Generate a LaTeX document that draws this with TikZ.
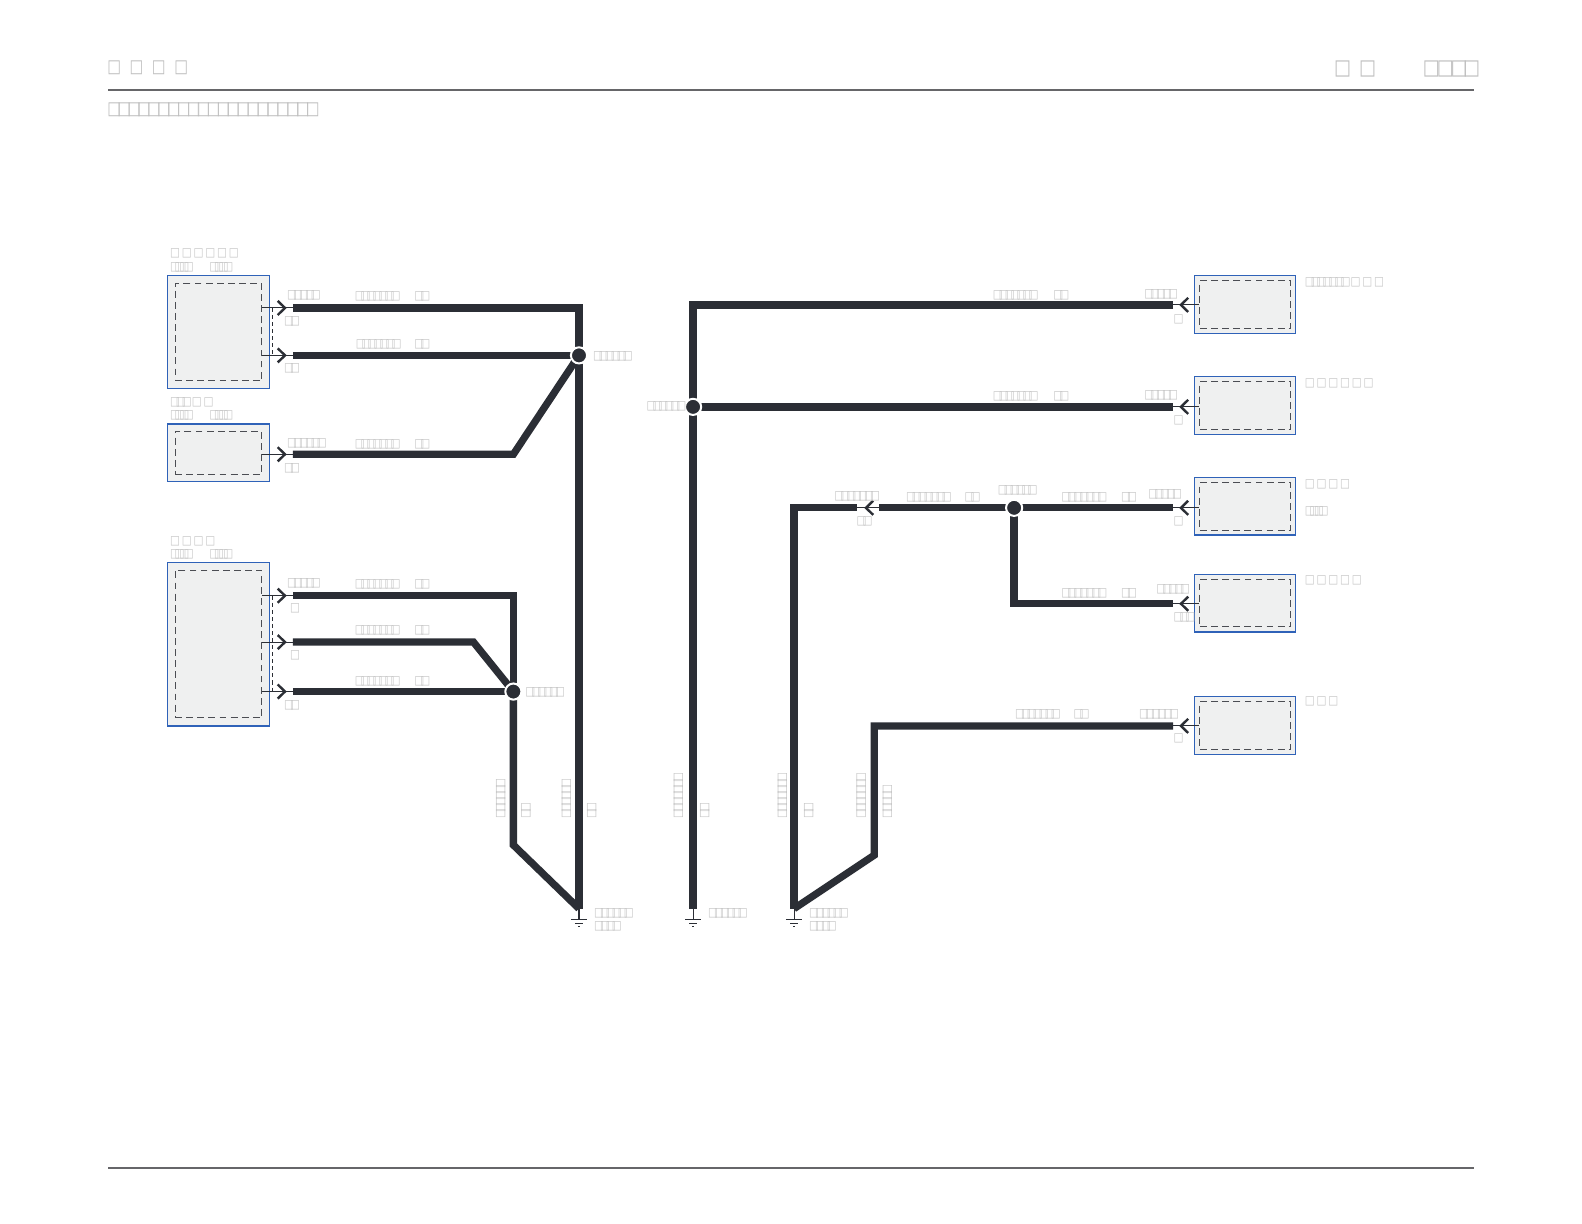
\documentclass[tikz,border=0pt]{standalone}
\usepackage{fontspec}
\usetikzlibrary{arrows.meta}
\newfontfamily\tofuhead[FakeStretch=0.8,LetterSpace=47]{DejaVu Sans}
\newfontfamily\tofusub[FakeStretch=0.8,LetterSpace=-21]{DejaVu Sans}
\newfontfamily\tofubig[FakeStretch=0.85,LetterSpace=38]{DejaVu Sans}
\newfontfamily\tofubigt[FakeStretch=0.85,LetterSpace=-15]{DejaVu Sans}
\newfontfamily\tofutight[FakeStretch=0.87,LetterSpace=-33]{DejaVu Sans}
\newfontfamily\tofudense[FakeStretch=0.87,LetterSpace=-44]{DejaVu Sans}
\newfontfamily\tofuwide[FakeStretch=0.87,LetterSpace=15]{DejaVu Sans}
\definecolor{wirecol}{HTML}{2B2E35}
\definecolor{boxblue}{HTML}{2F62B8}
\definecolor{boxfill}{HTML}{EFF0F0}
\definecolor{rulecol}{HTML}{666669}
\definecolor{textcol}{HTML}{C6C6C6}
\definecolor{headcol}{HTML}{BEBEBE}
\tikzstyle{outerbox} = [rectangle, draw=boxblue, fill=boxfill, line width=0.6pt, inner sep=0pt]
\tikzstyle{innerbox} = [rectangle, draw=wirecol!85, dashed, dash pattern=on 3.4pt off 2.1pt, line width=0.5pt, inner sep=0pt]
\tikzstyle{wire} = [draw=wirecol, line width=3.6pt, miter limit=10]
\tikzstyle{pin} = [draw=wirecol, line width=0.5pt]
\tikzstyle{pinarrow} = [draw=wirecol, line width=0.5pt, -{Straight Barb[length=3.6pt,width=7pt,line width=1.2pt]}]
\tikzstyle{link} = [draw=wirecol, line width=0.4pt, dashed, dash pattern=on 2pt off 1.5pt]
\tikzstyle{joint} = [circle, fill=wirecol, draw=white, line width=1pt, minimum size=8pt, inner sep=0pt]
\tikzstyle{rulel} = [draw=rulecol, line width=0.65pt]
\tikzstyle{lab} = [anchor=west, inner sep=0pt, yshift=-0.4pt, text=textcol, font=\fontsize{6}{7}\tofutight]
\tikzstyle{labw} = [lab, font=\fontsize{6}{7}\tofuwide]
\tikzstyle{labd} = [lab, font=\fontsize{6}{7}\tofudense]
\tikzstyle{labv} = [lab, rotate=90]
\tikzstyle{head} = [anchor=west, inner sep=0pt, text=headcol, font=\fontsize{9}{10}\tofuhead]
\tikzset{gnd/.pic={
	\draw [pin] (0,0) -- (0,11);
	\draw [pin] (-8,11) -- (8,11);
	\draw [pin] (-4,15) -- (4,15);
	\draw [pin] (-1,18) -- (1,18);
}}

\begin{document}
\begin{tikzpicture}[x=0.5pt, y=-0.5pt]
	\useasboundingbox (0,0) rectangle (1567,1212);
	% page frame
	\coordinate (topa) at (107,89);
	\coordinate (topb) at (1460,89);
	\coordinate (bota) at (107,1157);
	\coordinate (botb) at (1460,1157);
	\draw [rulel] (topa) -- (topb);
	\draw [rulel] (bota) -- (botb);
	\node (tl) [head] at (106,67.5) {□□□□};
	\node (tr1) [head, font=\fontsize{10.5}{11}\tofubig] at (1321,68) {□□};
	\node (tr2) [head, font=\fontsize{10.5}{11}\tofubigt] at (1409,68) {□□□\kern-2.2pt□};
	\node (stitle) [head, font=\fontsize{9}{10}\tofusub] at (106,109) {□□□□□□□□□□□□□□□□□□□□□};

	% left boxes
	\node (srca) [outerbox, minimum width=50.5pt, minimum height=56pt] at (216.5,329) {};
	\node (srcb) [outerbox, minimum width=50.5pt, minimum height=28.5pt] at (216.5,448.5) {};
	\node (srcc) [outerbox, minimum width=50.5pt, minimum height=81pt] at (216.5,638) {};
	\node (srcain) [innerbox, minimum width=43pt, minimum height=48pt] at (srca) {};
	\node (srcbin) [innerbox, minimum width=43pt, minimum height=21pt] at (srcb) {};
	\node (srccin) [innerbox, minimum width=43pt, minimum height=73pt] at (srcc) {};

	% right boxes
	\node (dsta) [outerbox, minimum width=50pt, minimum height=28.5pt] at (1233.5,301.5) {};
	\node (dstb) [outerbox, minimum width=50pt, minimum height=28.5pt] at (1233.5,401.5) {};
	\node (dstc) [outerbox, minimum width=50pt, minimum height=28.5pt] at (1233.5,501.5) {};
	\node (dstd) [outerbox, minimum width=50pt, minimum height=28.5pt] at (1233.5,597.5) {};
	\node (dste) [outerbox, minimum width=50pt, minimum height=28.5pt] at (1233.5,718.5) {};
	\node (dstain) [innerbox, minimum width=45pt, minimum height=23.5pt] at (dsta) {};
	\node (dstbin) [innerbox, minimum width=45pt, minimum height=23.5pt] at (dstb) {};
	\node (dstcin) [innerbox, minimum width=45pt, minimum height=23.5pt] at (dstc) {};
	\node (dstdin) [innerbox, minimum width=45pt, minimum height=23.5pt] at (dstd) {};
	\node (dstein) [innerbox, minimum width=45pt, minimum height=23.5pt] at (dste) {};

	% wire ends
	\coordinate (wa) at (290,305);
	\coordinate (wb) at (290,352);
	\coordinate (wc) at (290,450);
	\coordinate (wd) at (290,590);
	\coordinate (we) at (290,636);
	\coordinate (wf) at (290,685);
	\coordinate (ra) at (1162,302);
	\coordinate (rb) at (1162,403);
	\coordinate (rc) at (1162,503);
	\coordinate (rd) at (1162,598);
	\coordinate (re) at (1162,719);
	\coordinate (mida) at (871,503);
	\coordinate (midb) at (849,503);
	\coordinate (gnda) at (573.5,900);
	\coordinate (gndb) at (686.5,900);
	\coordinate (gndc) at (786.5,900);

	% joints
	\node (ja) [joint] at (573.5,352) {};
	\node (jb) [joint] at (508.5,685) {};
	\node (jc) [joint] at (686.5,403) {};
	\node (jd) [joint] at (1004.5,503) {};

	% wires
	\draw [wire] (wa) -- (573.5,305) -- (ja.center);
	\draw [wire] (wb) -- (ja.center);
	\draw [wire] (wc) -- (508.5,450) -- (ja.center);
	\draw [wire] (ja.center) -- (gnda);
	\draw [wire] (wd) -| (jb.center);
	\draw [wire] (we) -- (469,636) -- (jb.center);
	\draw [wire] (wf) -- (jb.center);
	\draw [wire] (jb.center) -- (508.5,837) -- (gnda);
	\draw [wire] (ra) -- (686.5,302) -- (jc.center);
	\draw [wire] (rb) -- (jc.center);
	\draw [wire] (jc.center) -- (gndb);
	\draw [wire] (rc) -- (jd.center);
	\draw [wire] (jd.center) -- (mida);
	\draw [wire] (midb) -- (786.5,503) -- (gndc);
	\draw [wire] (jd.center) |- (rd);
	\draw [wire] (re) -- (866,719) -- (866,847) -- (gndc);
	\node at (ja) [joint] {};
	\node at (jb) [joint] {};
	\node at (jc) [joint] {};
	\node at (jd) [joint] {};

	% pins
	\draw [pinarrow] (srcain.east |- wa) -- ([xshift=-3pt]wa);
	\draw [pinarrow] (srcain.east |- wb) -- ([xshift=-3pt]wb);
	\draw [pinarrow] (srcbin.east |- wc) -- ([xshift=-3pt]wc);
	\draw [pinarrow] (srccin.east |- wd) -- ([xshift=-3pt]wd);
	\draw [pinarrow] (srccin.east |- we) -- ([xshift=-3pt]we);
	\draw [pinarrow] (srccin.east |- wf) -- ([xshift=-3pt]wf);
	\foreach \w in {wa,wb,wc,wd,we,wf}
		\draw [pin] ([xshift=-3.5pt]\w) -- (\w);
	\draw [link] (270,305) -- (270,352);
	\draw [link] (270,590) -- (270,685);
	\draw [pinarrow] (dstain.west |- ra) -- ([xshift=3pt]ra);
	\draw [pinarrow] (dstbin.west |- rb) -- ([xshift=3pt]rb);
	\draw [pinarrow] (dstcin.west |- rc) -- ([xshift=3pt]rc);
	\draw [pinarrow] (dstdin.west |- rd) -- ([xshift=3pt]rd);
	\draw [pinarrow] (dstein.west |- re) -- ([xshift=3pt]re);
	\foreach \w in {ra,rb,rc,rd,re}
		\draw [pin] (\w) -- ([xshift=3.5pt]\w);
	\draw [pinarrow] (mida) -- ([xshift=3.5pt]midb);
	\draw [pin] (midb) -- ([xshift=4pt]midb);

	% grounds
	\pic at (gnda) {gnd};
	\pic at (gndb) {gnd};
	\pic at (gndc) {gnd};

	% left labels
	\node (tsa) [labw] at (168,250) {□□□□□□};
	\node (tsaa) [labd] at (168,264) {□□□□};
	\node (tsab) [labd] at (207,264) {□□□□};
	\node (tsb) [lab] at (168,398) {□□□{\tofuwide □□}};
	\node (tsba) [labd] at (168,411) {□□□□};
	\node (tsbb) [labd] at (207,411) {□□□□};
	\node (tsc) [labw] at (168,535) {□□□□};
	\node (tsca) [labd] at (168,548) {□□□□};
	\node (tscb) [labd] at (207,548) {□□□□};
	\node (pa) [lab] at (284,292) {□□□□□};
	\node (wla) [lab] at (351,293) {□□□□□□□};
	\node (wlb) [lab] at (410,293) {□□};
	\node (pb) [lab] at (281,317) {□□};
	\node (wlc) [lab] at (352,340) {□□□□□□□};
	\node (wld) [lab] at (410,340) {□□};
	\node (pc) [lab] at (281,364) {□□};
	\node (pd) [lab] at (284,438) {□□□□□□};
	\node (wle) [lab] at (351,439) {□□□□□□□};
	\node (wlf) [lab] at (410,439) {□□};
	\node (pe) [lab] at (281,463) {□□};
	\node (pf) [lab] at (284,577) {□□□□□};
	\node (wlg) [lab] at (351,578) {□□□□□□□};
	\node (wlh) [lab] at (410,578) {□□};
	\node (pg) [lab] at (287,602) {□};
	\node (wli) [lab] at (351,624) {□□□□□□□};
	\node (wlj) [lab] at (410,624) {□□};
	\node (ph) [lab] at (287,648) {□};
	\node (wlk) [lab] at (351,674) {□□□□□□□};
	\node (wll) [lab] at (410,674) {□□};
	\node (pi) [lab] at (281,698) {□□};

	% joint and ground labels
	\node (jla) [lab] at (587,352) {□□□□□□};
	\node (jlb) [lab] at (520,685) {□□□□□□};
	\node (jlc) [lab] at (640,402) {□□□□□□};
	\node (jld) [lab] at (988,485) {□□□□□□};
	\node (gla) [lab] at (588,904) {□□□□□□};
	\node (glb) [lab] at (588,917) {□□□□};
	\node (glc) [lab] at (701,904) {□□□□□□};
	\node (gld) [lab] at (801,904) {□□□□□□};
	\node (gle) [lab] at (801,917) {□□□□};

	% upright labels
	\node (va) [labv] at (496,810) {□□□□□□};
	\node (vb) [labv] at (521,810) {□□};
	\node (vc) [labv] at (561,810) {□□□□□□};
	\node (vd) [labv] at (586,810) {□□};
	\node (ve) [labv] at (672,810) {□□□□□□□};
	\node (vf) [labv] at (698,810) {□□};
	\node (vg) [labv] at (775,810) {□□□□□□□};
	\node (vh) [labv] at (801,810) {□□};
	\node (vi) [labv] at (853,810) {□□□□□□□};
	\node (vj) [labv] at (879,810) {□□□□□};

	% right labels
	\node (rwa) [lab] at (983,292) {□□□□□□□};
	\node (rwb) [lab] at (1043,292) {□□};
	\node (qa) [lab] at (1133,291) {□□□□□};
	\node (qb) [lab] at (1162,316) {□};
	\node (nma) [lab] at (1292,279) {□□□□□□□{\tofuwide □□□}};
	\node (rwc) [lab] at (983,392) {□□□□□□□};
	\node (rwd) [lab] at (1043,392) {□□};
	\node (qc) [lab] at (1133,391) {□□□□□};
	\node (qd) [lab] at (1162,416) {□};
	\node (nmb) [labw] at (1292,379) {□□□□□□};
	\node (rwe) [lab] at (1051,492) {□□□□□□□};
	\node (rwf) [lab] at (1110,492) {□□};
	\node (qe) [lab] at (1137,489) {□□□□□};
	\node (qf) [lab] at (1162,516) {□};
	\node (nmc) [labw] at (1292,479) {□□□□};
	\node (nmd) [labd] at (1292,506) {□□□□};
	\node (rwg) [lab] at (1051,587) {□□□□□□□};
	\node (rwh) [lab] at (1110,587) {□□};
	\node (qg) [lab] at (1145,583) {□□□□□};
	\node (qh) [lab] at (1162,611) {□□□};
	\node (nme) [labw] at (1292,574) {□□□□□};
	\node (rwi) [lab] at (1005,707) {□□□□□□□};
	\node (rwj) [lab] at (1063,707) {□□};
	\node (qi) [lab] at (1128,707) {□□□□□□};
	\node (qj) [lab] at (1162,731) {□};
	\node (nmf) [labw] at (1292,694) {□□□};
	\node (mla) [lab] at (826,491) {□□□□□□□};
	\node (mlb) [lab] at (848,516) {□□};
	\node (mlc) [lab] at (897,492) {□□□□□□□};
	\node (mld) [lab] at (955,492) {□□};
\end{tikzpicture}
\end{document}
